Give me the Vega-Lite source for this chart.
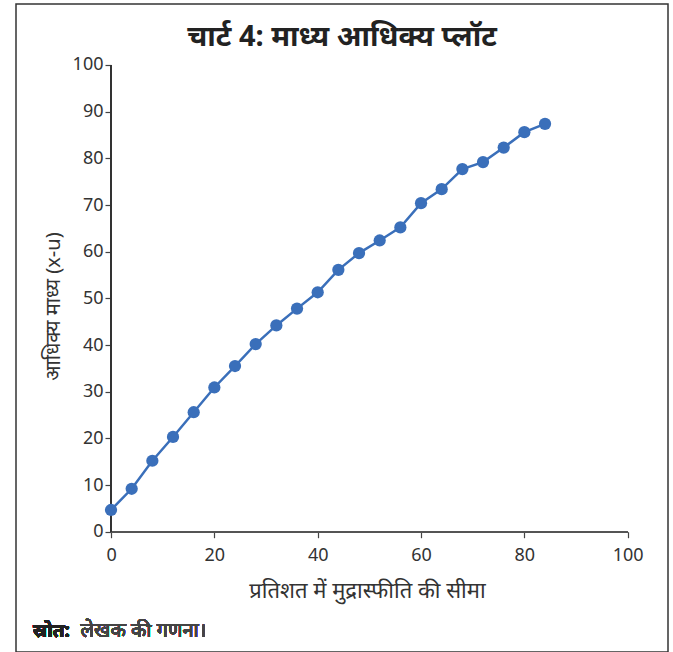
{
  "$schema": "https://vega.github.io/schema/vega-lite/v6.json",
  "autosize": {"type": "none"},
  "padding": {"left": 16, "top": 4, "right": 5, "bottom": 0},
  "width": 652,
  "height": 648,
  "background": "white",
  "config": {
    "view": {"stroke": "#333333", "strokeWidth": 1.5},
    "font": "Noto Sans"
  },
  "title": {
    "text": "चार्ट 4: माध्य आधिक्य प्लॉट",
    "fontSize": 29,
    "fontWeight": "bold",
    "color": "#222222",
    "anchor": "middle",
    "offset": -48,
    "font": "Noto Sans"
  },
  "data": {
    "values": [
      {"x": 0, "y": 4.65},
      {"x": 4, "y": 9.2},
      {"x": 8, "y": 15.2},
      {"x": 12, "y": 20.3},
      {"x": 16, "y": 25.6},
      {"x": 20, "y": 30.9},
      {"x": 24, "y": 35.5},
      {"x": 28, "y": 40.2},
      {"x": 32, "y": 44.2},
      {"x": 36, "y": 47.8},
      {"x": 40, "y": 51.3},
      {"x": 44, "y": 56.1},
      {"x": 48, "y": 59.7},
      {"x": 52, "y": 62.4},
      {"x": 56, "y": 65.2},
      {"x": 60, "y": 70.4},
      {"x": 64, "y": 73.4},
      {"x": 68, "y": 77.7},
      {"x": 72, "y": 79.2},
      {"x": 76, "y": 82.3},
      {"x": 80, "y": 85.6},
      {"x": 84, "y": 87.4}
    ]
  },
  "encoding": {
    "x": {
      "field": "x",
      "type": "quantitative",
      "scale": {"domain": [-18.39, 107.8], "nice": false, "zero": false},
      "axis": {
        "values": [0, 20, 40, 60, 80, 100],
        "domain": false,
        "grid": false,
        "offset": -120.3,
        "tickSize": 6,
        "tickColor": "#444444",
        "tickWidth": 1.2,
        "labelFontSize": 18,
        "labelColor": "#333333",
        "labelPadding": 9,
        "labelFont": "Noto Sans",
        "title": "प्रतिशत में मुद्रास्फीति की सीमा",
        "titleFontSize": 22,
        "titleFontWeight": "normal",
        "titleColor": "#333333",
        "titleX": 351,
        "titleY": 59,
        "titleBaseline": "middle",
        "titleAnchor": "middle"
      }
    },
    "y": {
      "field": "y",
      "type": "quantitative",
      "scale": {"domain": [-25.78, 113.07], "nice": false, "zero": false},
      "axis": {
        "values": [0, 10, 20, 30, 40, 50, 60, 70, 80, 90, 100],
        "domain": false,
        "grid": false,
        "offset": -95,
        "tickSize": 6,
        "tickColor": "#444444",
        "tickWidth": 1.2,
        "labelFontSize": 18,
        "labelColor": "#333333",
        "labelPadding": 2,
        "labelFont": "Noto Sans",
        "title": "आधिक्य माध्य (x-u)",
        "titleFontSize": 20,
        "titleFontWeight": "normal",
        "titleColor": "#333333",
        "titleX": -58,
        "titleY": 302,
        "titleBaseline": "middle",
        "titleAngle": -90
      }
    }
  },
  "layer": [
    {
      "mark": {"type": "rule", "color": "#555555", "strokeWidth": 1.5},
      "encoding": {
        "x": {"datum": 0},
        "x2": {"datum": 100},
        "y": {"datum": 0}
      }
    },
    {
      "mark": {"type": "rule", "color": "#333333", "strokeWidth": 1.5},
      "encoding": {
        "x": {"datum": 0},
        "y": {"datum": 0},
        "y2": {"datum": 100}
      }
    },
    {
      "mark": {"type": "line", "color": "#3a6fba", "strokeWidth": 2.5}
    },
    {
      "mark": {"type": "point", "filled": true, "opacity": 1, "color": "#3a6fba", "size": 150}
    },
    {
      "mark": {"type": "text", "align": "left", "baseline": "middle", "fontSize": 19, "fontWeight": "bold", "color": "#222222", "font": "Noto Sans"},
      "encoding": {
        "x": {"datum": -15.1},
        "y": {"datum": -21.3},
        "text": {"value": "स्रोत:"}
      }
    },
    {
      "mark": {"type": "text", "align": "left", "baseline": "middle", "fontSize": 20, "fontWeight": 400, "color": "#444444", "font": "Noto Sans"},
      "encoding": {
        "x": {"datum": -5.9},
        "y": {"datum": -21.3},
        "text": {"value": "लेखक की गणना।"}
      }
    }
  ]
}
